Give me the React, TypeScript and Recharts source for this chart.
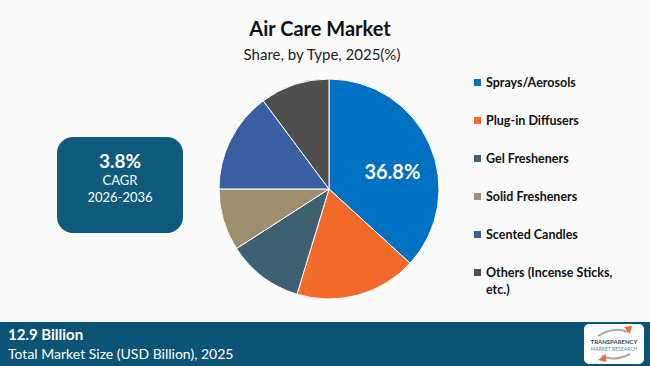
import React from "react";
import { PieChart, Pie, Cell } from "recharts";

const categories = [
  "Sprays/Aerosols",
  "Plug-in Diffusers",
  "Gel Fresheners",
  "Solid Fresheners",
  "Scented Candles",
  "Others (Incense Sticks, etc.)",
];
const shares = [36.8, 17.9, 11.2, 9.1, 14.8, 10.2];
const colors = ["#0070C0", "#F26B2A", "#3E6172", "#9E8F6E", "#3A5FA0", "#4F4F4F"];
const labeledIndex = 0;

const data = categories.map((name, i) => ({ name, value: shares[i] }));

const FONT = "'Lato', 'Open Sans', sans-serif";

const RADIAN = Math.PI / 180;
const renderLabel = (props: any) => {
  const { cx, cy, midAngle, outerRadius, index, value } = props;
  if (index !== labeledIndex) return null;
  const r = outerRadius * 0.6;
  const x = cx + r * Math.cos(-midAngle * RADIAN) + 3;
  const y = cy + r * Math.sin(-midAngle * RADIAN) + 9;
  return (
    <text
      x={x}
      y={y}
      fill="#ffffff"
      textAnchor="middle"
      dominantBaseline="central"
      fontFamily={FONT}
      fontWeight={700}
      fontSize={20}
    >
      {`${value}%`}
    </text>
  );
};

export default function App() {
  return (
    <div
      style={{
        position: "absolute",
        left: 0,
        top: 0,
        width: 650,
        height: 366,
        background: "#FAFAFA",
        overflow: "hidden",
        fontFamily: FONT,
      }}
    >
      <div
        style={{
          position: "absolute",
          left: 0,
          width: 640,
          top: 16,
          textAlign: "center",
          fontSize: 20,
          fontWeight: 700,
          color: "#111",
        }}
      >
        Air Care Market
      </div>
      <div
        style={{
          position: "absolute",
          left: 0,
          width: 644,
          top: 45,
          textAlign: "center",
          fontSize: 15,
          color: "#222",
        }}
      >
        Share, by Type, 2025(%)
      </div>

      <div style={{ position: "absolute", left: 0, top: 0 }}>
        <PieChart width={650} height={366} margin={{ top: 0, right: 0, bottom: 0, left: 0 }}>
          <Pie
            data={data}
            dataKey="value"
            nameKey="name"
            cx={329}
            cy={189}
            outerRadius={110}
            startAngle={90}
            endAngle={-270}
            stroke="#ffffff"
            strokeWidth={1}
            label={renderLabel}
            labelLine={false}
            isAnimationActive={false}
          >
            {data.map((d, i) => (
              <Cell key={d.name} fill={colors[i]} />
            ))}
          </Pie>
        </PieChart>
      </div>

      {/* Legend */}
      {categories.map((name, i) => (
        <div
          key={name}
          style={{
            position: "absolute",
            left: 474,
            top: 74 + i * 38,
            width: 170,
            display: "flex",
            alignItems: "flex-start",
            fontSize: 12.5,
            fontWeight: 700,
            color: "#111",
            lineHeight: "17px",
          }}
        >
          <span
            style={{
              display: "inline-block",
              width: 7,
              height: 7,
              background: colors[i],
              marginTop: 5,
              marginRight: 5,
              flexShrink: 0,
            }}
          />
          <span style={{ width: 150 }}>{name}</span>
        </div>
      ))}

      {/* CAGR box */}
      <div
        style={{
          position: "absolute",
          left: 57,
          top: 137,
          width: 126,
          height: 96,
          background: "#0E5A7A",
          borderRadius: 16,
          color: "#fff",
          textAlign: "center",
        }}
      >
        <div style={{ marginTop: 13, fontSize: 19, fontWeight: 700, lineHeight: "22px" }}>3.8%</div>
        <div style={{ fontSize: 13, lineHeight: "17px" }}>CAGR</div>
        <div style={{ fontSize: 13, lineHeight: "17px" }}>2026-2036</div>
      </div>

      {/* Footer */}
      <div
        style={{
          position: "absolute",
          left: 0,
          top: 322,
          width: 650,
          height: 44,
          background: "#0B5476",
          color: "#fff",
        }}
      >
        <div style={{ position: "absolute", left: 8, top: 3, fontSize: 15, fontWeight: 700 }}>12.9 Billion</div>
        <div style={{ position: "absolute", left: 8, top: 23, fontSize: 14 }}>
          Total Market Size (USD Billion), 2025
        </div>
        <div
          style={{
            position: "absolute",
            left: 584,
            top: 2,
            width: 60,
            height: 40,
            background: "#fff",
            borderRadius: 5,
            color: "#1C4E74",
            textAlign: "center",
          }}
        >
          <svg width={60} height={40} style={{ position: "absolute", left: 0, top: 0 }}>
            <path d="M14 12 Q30 2 44 8" stroke="#aaa" strokeWidth={2} fill="none" />
            <polygon points="40,3 48,2 46,10" fill="#F26B2A" />
            <path d="M46 30 Q30 38 18 32" stroke="#aaa" strokeWidth={2} fill="none" />
            <polygon points="22,30 14,36 22,38" fill="#F26B2A" />
            <text x={30} y={20} textAnchor="middle" fontSize={6} fontWeight={700} fill="#1C4E74" fontFamily={FONT}>
              TRANSPARENCY
            </text>
            <text x={30} y={27} textAnchor="middle" fontSize={5} fill="#5a8aa8" fontFamily={FONT}>
              MARKET RESEARCH
            </text>
          </svg>
        </div>
      </div>
    </div>
  );
}
